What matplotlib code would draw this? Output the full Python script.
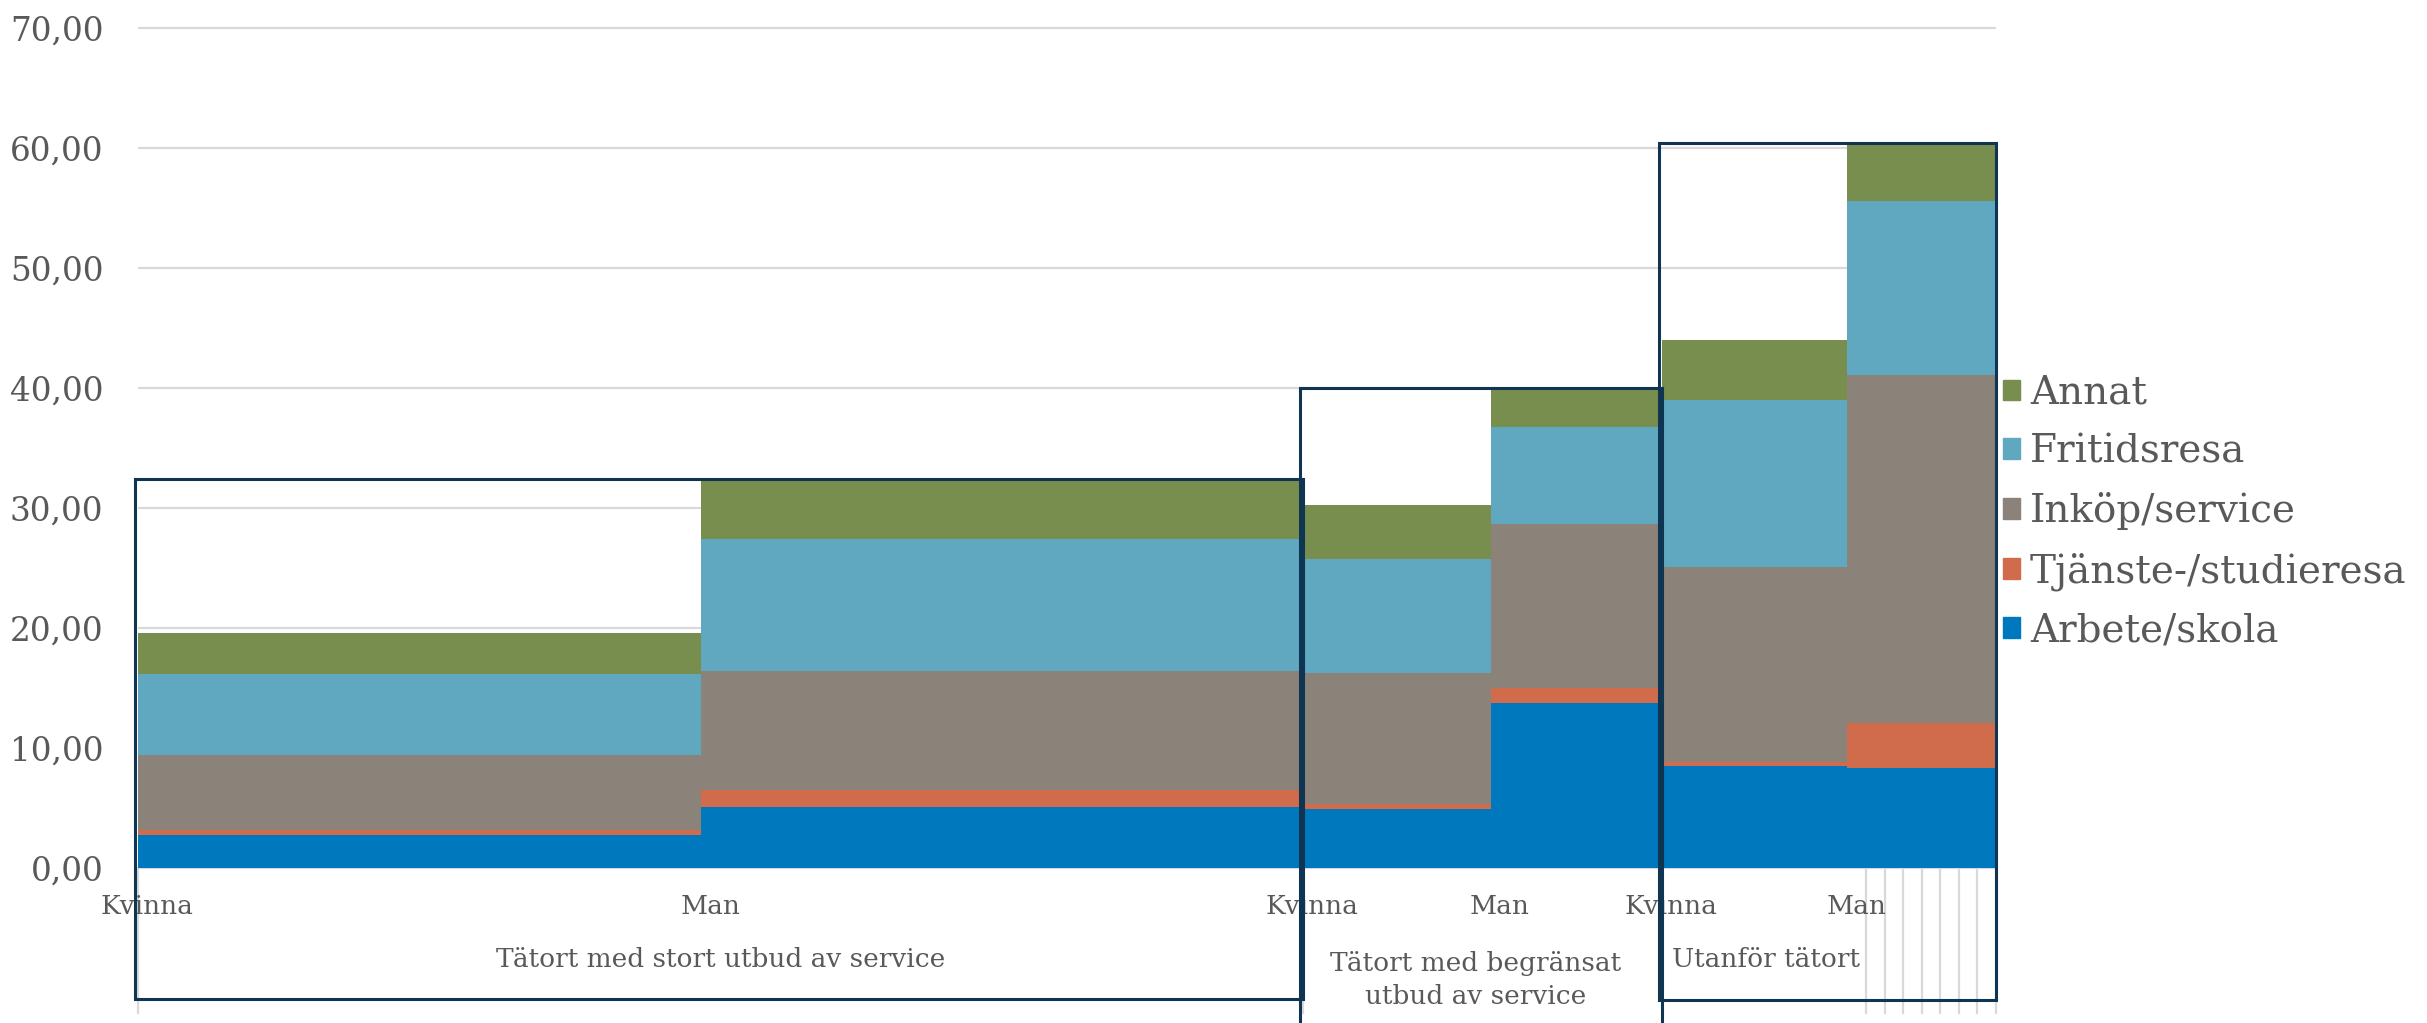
import matplotlib.pyplot as plt
from matplotlib.patches import Patch, Rectangle
import numpy as np

plt.rcParams['font.family'] = ['DejaVu Serif']

# Data
kon = ['Kvinna', 'Man', 'Kvinna', 'Man', 'Kvinna', 'Man']
grupper = ['Tätort med stort utbud av service',
           'Tätort med begränsat\nutbud av service',
           'Utanför tätort']
grupp_idx = [0, 0, 1, 1, 2, 2]
bredd = [30.3, 32.4, 10.1, 9.2, 10.0, 8.0]  # andel (bredd på stapel)

arbete = [2.78, 5.09, 4.93, 13.77, 8.54, 8.36]
tjanste = [0.42, 1.46, 0.41, 1.22, 0.28, 3.74]
inkop = [6.24, 9.90, 10.90, 13.70, 16.33, 29.05]
fritid = [6.79, 11.00, 9.53, 8.06, 13.90, 14.47]
annat = [3.37, 4.99, 4.50, 3.28, 5.00, 4.80]

serier = ['Arbete/skola', 'Tjänste-/studieresa', 'Inköp/service', 'Fritidsresa', 'Annat']
varden = [arbete, tjanste, inkop, fritid, annat]
farger = ['#0078BD', '#D06B4C', '#8B8279', '#60A8C0', '#788E4E']

# Figur
W, H = 2427, 1023
fig = plt.figure(figsize=(W / 100, H / 100), dpi=100)
ax = fig.add_axes([138 / W, 0, 1858 / W, 1])
ax.set_xlim(0, 100)
ax.set_ylim(-12.89, 72.36)
for s in ax.spines.values():
    s.set_visible(False)

yt = np.arange(0, 80, 10)
for v in yt:
    ax.axhline(v, color='#d9d9d9', lw=1.6, zorder=0)
ax.set_yticks(yt)
ax.set_yticklabels([f'{v:.2f}'.replace('.', ',') for v in yt])
ax.tick_params(axis='y', length=0, pad=25, labelsize=23.5, labelcolor='#595959')
ax.set_xticks([])

vanster = np.concatenate([[0], np.cumsum(bredd)[:-1]])
botten = np.zeros(len(bredd))
for namn, v, c in zip(serier, varden, farger):
    ax.bar(vanster, v, width=bredd, bottom=botten, align='edge', color=c,
           linewidth=0, zorder=2, label=namn)
    botten = botten + np.array(v)
totalt = botten

# vertikala stödlinjer under axeln
for xv in np.concatenate([[0, vanster[2]], np.arange(93, 101)]):
    ax.plot([xv, xv], [0, -12.05], color='#d9d9d9', lw=1.6, zorder=0, clip_on=False)

# kategorietiketter
for x0, k in zip(vanster, kon):
    ax.text(x0 + 0.5, -3.15, k, ha='center', va='center', fontsize=19, color='#595959')

# grupper: ram + etikett
grupp_start = [vanster[0], vanster[2], vanster[4]]
grupp_slut = [vanster[2], vanster[4], 100]
ram_botten = [-10.9, -14.0, -11.0]
etikett_x = [31.35, 72.0, 87.6]
etikett_y = [-7.6, -9.3, -7.6]
for g in range(3):
    topp = max(totalt[i] for i in range(6) if grupp_idx[i] == g)
    x0 = grupp_start[g] - 0.15
    ax.add_patch(Rectangle((x0, ram_botten[g]), grupp_slut[g] - x0, topp - ram_botten[g],
                           fill=False, edgecolor='#0f3553', lw=2.2, zorder=5, clip_on=False))
    ax.text(etikett_x[g], etikett_y[g], grupper[g], ha='center', va='center',
            fontsize=19, color='#595959', linespacing=1.36)

handles = [Patch(color=c) for c in farger][::-1]
fig.legend(handles, serier[::-1], loc='center left', bbox_to_anchor=(2003 / W, 0.4995),
           frameon=False, fontsize=28, labelcolor='#595959', handlelength=0.44,
           handleheight=0.44, handletextpad=0.25, labelspacing=0.56, borderpad=0,
           borderaxespad=0)

fig.savefig('out.png', dpi=100)
